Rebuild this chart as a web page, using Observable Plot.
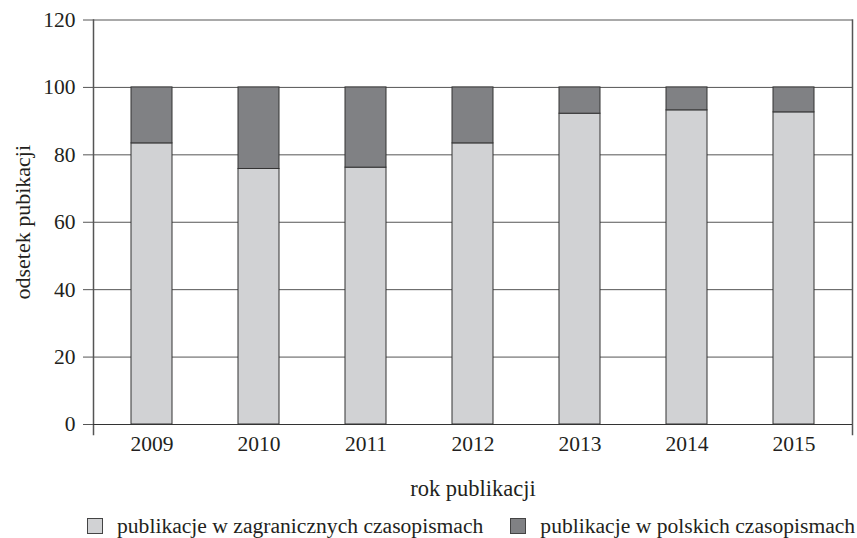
<!DOCTYPE html>
<html>
<head>
<meta charset="utf-8">
<script src="https://cdn.jsdelivr.net/npm/d3@7"></script>
<script src="https://cdn.jsdelivr.net/npm/@observablehq/plot@0.6"></script>
<style>
  body { margin: 0; background: #fff; font-family: "Liberation Serif", "DejaVu Serif", serif; color: #231f20; overflow: hidden; }
  #legend { display: flex; justify-content: flex-start; align-items: center; padding-left: 87px; height: 24px; font-size: 21.6px; line-height: 24px; white-space: nowrap; width: 857px; box-sizing: border-box; }
  .item { display: flex; align-items: center; margin-right: 27px; flex-shrink: 0; white-space: nowrap; }
  .sw { width: 16px; height: 16px; border: 1px solid #444; margin-right: 14px; box-sizing: border-box; flex-shrink: 0; }
</style>
</head>
<body>
<div id="chart"></div>
<div id="legend"></div>
<script>
const years = ["2009", "2010", "2011", "2012", "2013", "2014", "2015"];
const foreign = [83.4, 75.8, 76.2, 83.4, 92.2, 93.2, 92.6];
const polish = foreign.map(v => +(100 - v).toFixed(1));
const seriesNames = ["publikacje w zagranicznych czasopismach", "publikacje w polskich czasopismach"];
const seriesColors = ["#d1d2d4", "#808184"];
const yTicks = [0, 20, 40, 60, 80, 100, 120];

const data = [];
years.forEach((y, i) => {
  data.push({year: y, series: seriesNames[0], value: foreign[i]});
  data.push({year: y, series: seriesNames[1], value: polish[i]});
});

const chart = Plot.plot({
  width: 857,
  height: 514,
  marginLeft: 93,
  marginRight: 5,
  marginTop: 19.5,
  marginBottom: 90,
  style: {fontFamily: "'Liberation Serif', serif", fontSize: "21.5px", color: "#231f20", background: "#fff"},
  x: {domain: years, paddingInner: 0.62, paddingOuter: 0.33, label: null},
  y: {domain: [0, 120], label: null},
  color: {domain: seriesNames, range: seriesColors},
  marks: [
    Plot.gridY(yTicks, {stroke: "#555", strokeOpacity: 1, strokeWidth: 1}),
    Plot.frame({anchor: "left", stroke: "#555", strokeWidth: 1.5, insetBottom: -10}),
    Plot.frame({anchor: "right", stroke: "#555", strokeWidth: 1.5, insetBottom: -10}),
    Plot.barY(data, Plot.stackY({x: "year", y: "value", fill: "series", order: seriesNames, stroke: "#333", strokeWidth: 1})),
    Plot.ruleY([0], {stroke: "#333", strokeWidth: 1.2}),
    Plot.axisY({ticks: yTicks, tickSize: 10, tickPadding: 8, stroke: "#555", fontSize: 21.5}),
    Plot.axisX({tickSize: 0, tickPadding: 11, fontSize: 21.5}),
    Plot.text(["rok publikacji"], {frameAnchor: "bottom", dy: 64, fontSize: 22.5, lineAnchor: "middle"}),
    Plot.text(["odsetek pubikacji"], {frameAnchor: "left", dx: -71, rotate: -90, fontSize: 22, lineAnchor: "middle", textAnchor: "middle"})
  ]
});
document.getElementById("chart").appendChild(chart);

const legend = document.getElementById("legend");
seriesNames.forEach((name, i) => {
  const item = document.createElement("div");
  item.className = "item";
  const sw = document.createElement("div");
  sw.className = "sw";
  sw.style.background = seriesColors[i];
  const t = document.createElement("span");
  t.textContent = name;
  item.appendChild(sw);
  item.appendChild(t);
  legend.appendChild(item);
});
</script>
</body>
</html>
